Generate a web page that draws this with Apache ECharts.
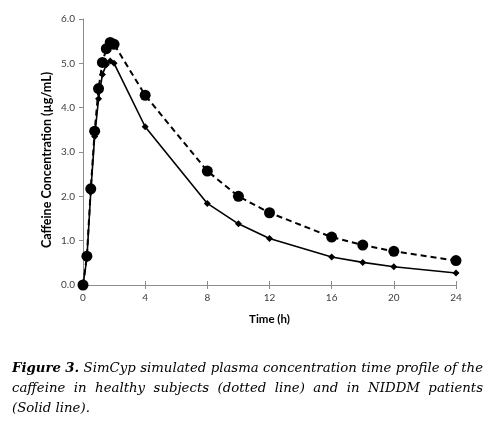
<!DOCTYPE html>
<html><head><meta charset="utf-8">
<script src="https://cdn.jsdelivr.net/npm/echarts@6/dist/echarts.min.js"></script>
<style>html,body{margin:0;padding:0;background:#fff}#c{width:486px;height:427px}</style>
</head><body><div id="c"></div>
<script>
const timesHealthy = [0, 0.25, 0.5, 0.75, 1, 1.25, 1.5, 1.75, 2, 4, 8, 10, 12, 16, 18, 20, 24];
const healthy = [0, 0.65, 2.17, 3.47, 4.43, 5.02, 5.33, 5.47, 5.43, 4.28, 2.57, 2.00, 1.63, 1.08, 0.90, 0.76, 0.55];
const timesNiddm = [0, 0.25, 0.5, 0.75, 1, 1.25, 1.5, 1.75, 2, 4, 8, 10, 12, 16, 18, 20, 24];
const niddm = [0, 0.60, 2.10, 3.35, 4.20, 4.75, 4.97, 5.05, 5.00, 3.57, 1.84, 1.38, 1.05, 0.63, 0.51, 0.41, 0.27];
const xTicks = [0, 4, 8, 12, 16, 20, 24];
const yTicks = [0, 1, 2, 3, 4, 5, 6];
const yTitle = 'Caffeine Concentration (µg/mL)';
const xTitle = 'Time (h)';
const captionLine1 = ['Figure', '3.', 'SimCyp', 'simulated', 'plasma', 'concentration', 'time', 'profile', 'of', 'the'];
const captionBoldCount = 2;
const captionLine2 = ['caffeine', 'in', 'healthy', 'subjects', '(dotted', 'line)', 'and', 'in', 'NIDDM', 'patients'];
const captionLine3 = '(Solid line).';

const chart = echarts.init(document.getElementById('c'), null, {renderer: 'canvas'});
const axisGrey = '#8c8c8c';
const labelStyle = {color: '#404040', fontFamily: 'Lato', fontSize: 10};
const xBase = {
  type: 'value', position: 'bottom', min: xTicks[0], max: xTicks[xTicks.length - 1], interval: 4,
  axisLine: {show: true, lineStyle: {color: axisGrey, width: 1}},
  splitLine: {show: false}
};
const capFont = 'DejaVu Serif';
const capSize = 13.3;
const capLeft = 12, capRight = 483;
const mctx = document.createElement('canvas').getContext('2d');
function fontStr(bold) { return 'italic ' + (bold ? 'bold ' : '') + capSize + 'px "' + capFont + '"'; }
function justify(words, top, boldCount) {
  const widths = words.map((w, i) => { mctx.font = fontStr(i < boldCount); return mctx.measureText(w).width; });
  const total = widths.reduce((a, b) => a + b, 0);
  const gap = (capRight - capLeft - total) / (words.length - 1);
  const out = [];
  let x = capLeft;
  words.forEach((w, i) => {
    out.push({type: 'text', x: x, y: top, style: {text: w, fontStyle: 'italic', fontWeight: i < boldCount ? 'bold' : 'normal',
      fontFamily: capFont, fontSize: capSize, fill: '#000', textVerticalAlign: 'top', verticalAlign: 'top'}});
    x += widths[i] + gap;
  });
  return out;
}
const graphics = [].concat(
  justify(captionLine1, 362, captionBoldCount),
  justify(captionLine2, 382, 0),
  [{type: 'text', x: capLeft, y: 402, style: {text: captionLine3, fontStyle: 'italic', fontFamily: capFont,
    fontSize: capSize, fill: '#000', verticalAlign: 'top'}}],
  [{type: 'text', x: 47, y: 160, rotation: Math.PI / 2, style: {text: yTitle, fontFamily: 'Lato', fontWeight: 'bold',
    fontSize: 12.5, fill: '#000', align: 'center', verticalAlign: 'middle'}}]
);

chart.setOption({
  animation: false,
  backgroundColor: '#fff',
  grid: {left: 83, right: 30, top: 19, bottom: 142, containLabel: false},
  xAxis: [
    Object.assign({}, xBase, {
      name: xTitle, nameLocation: 'middle', nameGap: 28,
      nameTextStyle: {color: '#000', fontFamily: 'Lato', fontWeight: 'bold', fontSize: 11.5},
      axisTick: {show: true, inside: false, length: 4, lineStyle: {color: axisGrey}},
      axisLabel: Object.assign({margin: 8}, labelStyle)
    }),
    Object.assign({}, xBase, {
      axisTick: {show: true, inside: true, length: 4, lineStyle: {color: axisGrey}},
      axisLabel: {show: false}
    })
  ],
  yAxis: {
    type: 'value', min: yTicks[0], max: yTicks[yTicks.length - 1], interval: 1,
    axisLine: {show: true, lineStyle: {color: axisGrey, width: 1}},
    axisTick: {show: true, inside: false, length: 4, lineStyle: {color: axisGrey}},
    axisLabel: Object.assign({margin: 8, formatter: v => v.toFixed(1)}, labelStyle),
    splitLine: {show: false}
  },
  series: [
    {
      name: 'Healthy', type: 'line', xAxisIndex: 0,
      data: timesHealthy.map((t, i) => [t, healthy[i]]),
      symbol: 'circle', symbolSize: 11,
      itemStyle: {color: '#000'},
      lineStyle: {color: '#000', width: 2, type: [6, 4]}, z: 3
    },
    {
      name: 'NIDDM', type: 'line', xAxisIndex: 0,
      data: timesNiddm.map((t, i) => [t, niddm[i]]),
      symbol: 'diamond', symbolSize: 7,
      itemStyle: {color: '#000'},
      lineStyle: {color: '#000', width: 1.6}, z: 2
    }
  ],
  graphic: graphics
});
</script></body></html>
